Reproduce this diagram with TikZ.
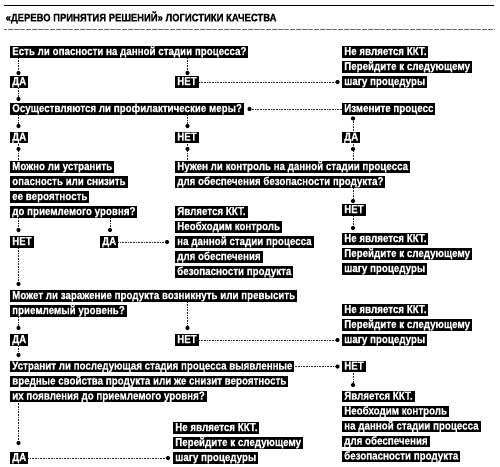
\documentclass[tikz,border=0pt]{standalone}
\usepackage{fontspec}
\setmainfont{Liberation Sans}
\newfontfamily\condfont[FakeStretch=0.85,FakeBold=0.8]{Liberation Sans Bold}
\newfontfamily\ttlfont[FakeStretch=0.86,FakeBold=0.8]{Liberation Sans Bold}
\begin{document}
\begin{tikzpicture}[x=1pt,y=-1pt,
  bx/.style={fill=black,text=white,font=\condfont\fontsize{11.5}{13}\selectfont,
    inner xsep=2pt,inner ysep=0.5pt,text height=8.5pt,text depth=2.4pt,anchor=west},
  ttl/.style={font=\ttlfont\fontsize{11}{13}\selectfont,inner sep=0pt,anchor=west},
  conn/.style={line width=0.7pt,dash pattern=on 0.7pt off 0.9pt,black!85},
  dotn/.style={circle,fill=black,inner sep=0pt,minimum size=4.2pt}]
\useasboundingbox (0,0) rectangle (500,466);
% header
\draw[line width=1.8pt] (4,5.5) -- (494,5.5);
\node[ttl] (title) at (5.5,17.5) {«ДЕРЕВО ПРИНЯТИЯ РЕШЕНИЙ» ЛОГИСТИКИ КАЧЕСТВА};
\draw[line width=0.5pt,black!60,dash pattern=on 0.6pt off 0.6pt] (4,29.5) -- (494,29.5);

% boxes
\node[bx] (q1) at (10,52) {Есть ли опасности на данной стадии процесса?};
\node[bx] (r1a) at (342,52) {Не является ККТ.};
\node[bx] (r1b) at (342,67) {Перейдите к следующему};
\node[bx] (r1c) at (342,82) {шагу процедуры};
\node[bx] (da1) at (10,82) {ДА};
\node[bx] (net1) at (175,82) {НЕТ};
\node[bx] (q2) at (10,109) {Осуществляются ли профилактические меры?};
\node[bx] (izm) at (342,109) {Измените процесс};
\node[bx] (da2) at (10,137.5) {ДА};
\node[bx] (net2) at (175,137.5) {НЕТ};
\node[bx] (da3) at (342,137.5) {ДА};
\node[bx] (q3L1) at (10,167) {Можно ли устранить};
\node[bx] (q3L2) at (10,182) {опасность или снизить};
\node[bx] (q3L3) at (10,197) {ее вероятность};
\node[bx] (q3L4) at (10,212) {до приемлемого уровня?};
\node[bx] (q3R1) at (175,167) {Нужен ли контроль на данной стадии процесса};
\node[bx] (q3R2) at (175,182) {для обеспечения безопасности продукта?};
\node[bx] (m1) at (175,212) {Является ККТ.};
\node[bx] (m2) at (175,227) {Необходим контроль};
\node[bx] (m3) at (175,242) {на данной стадии процесса};
\node[bx] (m4) at (175,257) {для обеспечения};
\node[bx] (m5) at (175,272) {безопасности продукта};
\node[bx] (netR2) at (342,210) {НЕТ};
\node[bx] (r2a) at (342,239) {Не является ККТ.};
\node[bx] (r2b) at (342,254) {Перейдите к следующему};
\node[bx] (r2c) at (342,269) {шагу процедуры};
\node[bx] (net3) at (10,242) {НЕТ};
\node[bx] (da4) at (100,242) {ДА};
\node[bx] (q4a) at (10,296) {Может ли заражение продукта возникнуть или превысить};
\node[bx] (q4b) at (10,311) {приемлемый уровень?};
\node[bx] (r3a) at (342,310) {Не является ККТ.};
\node[bx] (r3b) at (342,325) {Перейдите к следующему};
\node[bx] (r3c) at (342,340) {шагу процедуры};
\node[bx] (da5) at (10,340) {ДА};
\node[bx] (net4) at (175,340) {НЕТ};
\node[bx] (q5a) at (10,366.5) {Устранит ли последующая стадия процесса выявленные};
\node[bx] (q5b) at (10,381.5) {вредные свойства продукта или же снизит вероятность};
\node[bx] (q5c) at (10,396.5) {их появления до приемлемого уровня?};
\node[bx] (netR4) at (342,366.5) {НЕТ};
\node[bx] (r4a) at (342,396.5) {Является ККТ.};
\node[bx] (r4b) at (342,411.5) {Необходим контроль};
\node[bx] (r4c) at (342,426.5) {на данной стадии процесса};
\node[bx] (r4d) at (342,441.5) {для обеспечения};
\node[bx] (r4e) at (342,456.5) {безопасности продукта};
\node[bx] (m6a) at (173,428) {Не является ККТ.};
\node[bx] (m6b) at (173,443) {Перейдите к следующему};
\node[bx] (m6c) at (173,458) {шагу процедуры};
\node[bx] (da6) at (10,458) {ДА};

% dots
\node[dotn] (p1) at (18.5,73) {};
\node[dotn] (p2) at (187.5,73) {};
\node[dotn] (p3) at (337.5,82) {};
\node[dotn] (p4) at (18.5,99) {};
\node[dotn] (p5) at (249.5,109) {};
\node[dotn] (p6) at (353,118.5) {};
\node[dotn] (p7) at (18.5,126) {};
\node[dotn] (p8) at (187.5,126) {};
\node[dotn] (p9) at (18.5,149) {};
\node[dotn] (p10) at (187.5,149) {};
\node[dotn] (p11) at (353,149) {};
\node[dotn] (p12) at (353,201) {};
\node[dotn] (p13) at (353,228) {};
\node[dotn] (p14) at (18.5,230) {};
\node[dotn] (p15) at (110,230) {};
\node[dotn] (p16) at (167,242) {};
\node[dotn] (p17) at (18.5,284) {};
\node[dotn] (p18) at (187.5,328) {};
\node[dotn] (p19) at (18.5,328) {};
\node[dotn] (p20) at (337.5,340) {};
\node[dotn] (p21) at (18.5,355) {};
\node[dotn] (p22) at (337.5,366.5) {};
\node[dotn] (p23) at (353,385) {};
\node[dotn] (p24) at (18.5,443) {};
\node[dotn] (p25) at (168,458) {};

% connectors
\draw[conn] (q1.south -| p1) -- (p1);
\draw[conn] (q1.south -| p2) -- (p2);
\draw[conn] (net1.east) -- (p3);
\draw[conn] (da1.south -| p4) -- (p4);
\draw[conn] (p5) -- (izm.west);
\draw[conn] (p6) -- (da3.north -| p6);
\draw[conn] (q2.south -| p7) -- (p7);
\draw[conn] (q2.south -| p8) -- (p8);
\draw[conn] (da2.south -| p9) -- (p9) -- (q3L1.north -| p9);
\draw[conn] (net2.south -| p10) -- (p10) -- (q3R1.north -| p10);
\draw[conn] (da3.south -| p11) -- (p11) -- (q3R1.north -| p11);
\draw[conn] (q3R2.south -| p12) -- (p12);
\draw[conn] (netR2.south -| p13) -- (p13);
\draw[conn] (q3L4.south -| p14) -- (p14);
\draw[conn] (q3L4.south -| p15) -- (p15);
\draw[conn] (da4.east) -- (p16);
\draw[conn] (net3.south -| p17) -- (p17);
\draw[conn] (q4a.south -| p18) -- (p18);
\draw[conn] (q4b.south -| p19) -- (p19);
\draw[conn] (net4.east) -- (p20);
\draw[conn] (da5.south -| p21) -- (p21);
\draw[conn] (q5a.east) -- (p22);
\draw[conn] (netR4.south -| p23) -- (p23);
\draw[conn] (q5c.south -| p24) -- (p24);
\draw[conn] (da6.east) -- (p25);
\end{tikzpicture}
\end{document}
